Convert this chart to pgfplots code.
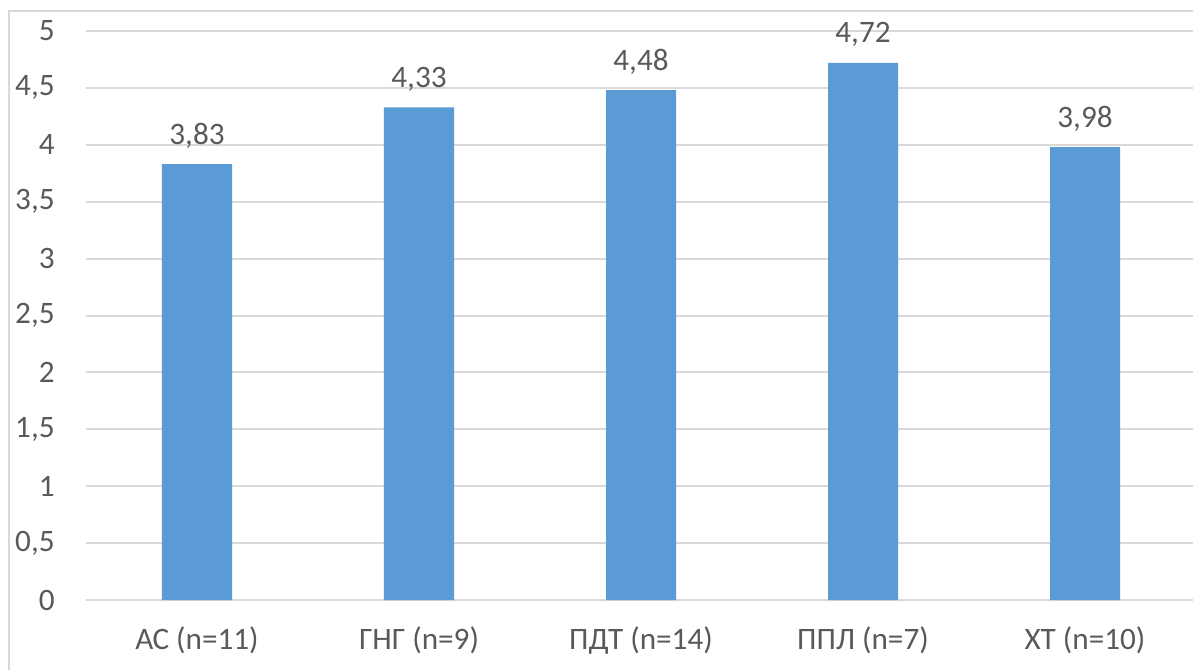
\documentclass[border=0pt]{standalone}
\usepackage{fontspec}
\setmainfont{Carlito}
\usepackage{pgfplots}
\pgfplotsset{compat=1.18}
\definecolor{barblue}{HTML}{5B9BD5}
\definecolor{txtgray}{HTML}{595959}
\definecolor{gridgray}{HTML}{D9D9D9}
\newcommand{\lbl}{\fontsize{15.6}{18.7}\selectfont}
\begin{document}
\begin{tikzpicture}
  % page 1193x670 px, 1px = 0.5pt
  \path[use as bounding box] (0,0) rectangle (596.5pt,335pt);
  \draw[gridgray, line width=1pt] (4.25pt,0) -- (4.25pt,329.5pt) -- (596.5pt,329.5pt);
  \begin{axis}[
      at={(43pt,35pt)}, anchor=south west,
      scale only axis,
      width=555pt, height=284.5pt,
      xmin=-0.5, xmax=4.5,
      ymin=0, ymax=5,
      ytick={0,0.5,...,5},
      xtick=data,
      xticklabels={АС (n=11), ГНГ (n=9), ПДТ (n=14), ППЛ (n=7), ХТ (n=10)},
      axis line style={draw=none},
      major tick length=0pt,
      ymajorgrids,
      grid style={gridgray, line width=1pt},
      /pgf/number format/use comma,
      /pgf/number format/assume math mode=true,
      tick label style={font=\lbl, text=txtgray},
      yticklabel style={inner sep=0pt, xshift=-15.5pt},
      xticklabel style={inner sep=0pt, anchor=base, yshift=-24.5pt},
      nodes near coords,
      nodes near coords style={font=\lbl, text=txtgray, inner sep=0pt, anchor=base, yshift=10pt,
        /pgf/number format/fixed, /pgf/number format/precision=2,
        /pgf/number format/fixed zerofill},
    ]
    \addplot[ybar, bar width=35pt, fill=barblue, draw=none] coordinates {
      (0,3.83) (1,4.33) (2,4.48) (3,4.72) (4,3.98)
    };
  \end{axis}
\end{tikzpicture}
\end{document}
